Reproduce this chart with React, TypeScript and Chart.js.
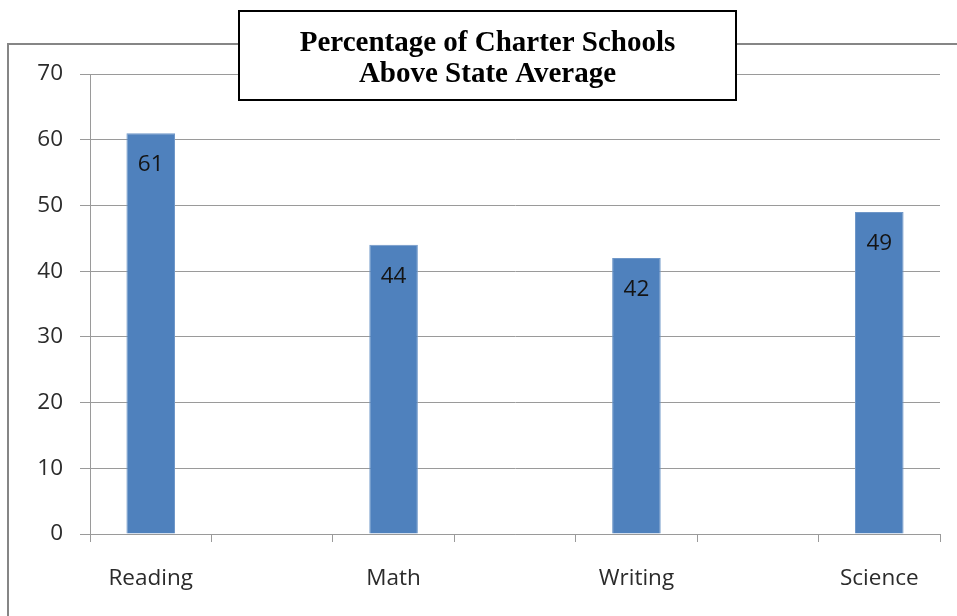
import React, { useEffect, useRef } from "react";
import { Chart, registerables } from "chart.js";

Chart.register(...registerables);

// Subjects and their values; blank slots keep the wide spacing between bars.
const subjects = ["Reading", "Math", "Writing", "Science"];
const percentAbove = [61, 44, 42, 49];
const yTicks = [0, 10, 20, 30, 40, 50, 60, 70];
const titleLines = ["Percentage of Charter Schools", "Above State Average"];

const slotLabels: string[] = [];
const slotValues: (number | null)[] = [];
subjects.forEach((s, i) => {
  if (i > 0) {
    slotLabels.push("");
    slotValues.push(null);
  }
  slotLabels.push(s);
  slotValues.push(percentAbove[i]);
});

const TICK_FONT = { family: "'Open Sans', Lato, sans-serif", size: 22.5 };
const GRID = "#9a9a9a";

const framePlugin = {
  id: "frame",
  beforeDraw(chart: any) {
    const ctx = chart.ctx;
    ctx.save();
    ctx.strokeStyle = "#868686";
    ctx.lineWidth = 2;
    ctx.beginPath();
    ctx.moveTo(8, chart.height);
    ctx.lineTo(8, 44);
    ctx.lineTo(chart.width, 44);
    ctx.stroke();
    ctx.restore();
  },
};

const valueLabelPlugin = {
  id: "valueLabels",
  afterDatasetsDraw(chart: any) {
    const ctx = chart.ctx;
    const meta = chart.getDatasetMeta(0);
    const data = chart.data.datasets[0].data;
    ctx.save();
    ctx.font = `${TICK_FONT.size}px ${TICK_FONT.family}`;
    ctx.fillStyle = "#141414";
    ctx.textAlign = "center";
    ctx.textBaseline = "middle";
    meta.data.forEach((bar: any, i: number) => {
      const v = data[i];
      if (v === null || v === undefined) return;
      ctx.fillText(String(v), bar.x, bar.y + 31.5);
    });
    ctx.restore();
  },
};

const titleBoxPlugin = {
  id: "titleBox",
  afterDraw(chart: any) {
    const ctx = chart.ctx;
    const x0 = 239, y0 = 11, x1 = 736, y1 = 100;
    ctx.save();
    ctx.fillStyle = "#ffffff";
    ctx.fillRect(x0, y0, x1 - x0, y1 - y0);
    ctx.strokeStyle = "#000000";
    ctx.lineWidth = 2;
    ctx.strokeRect(x0, y0, x1 - x0, y1 - y0);
    ctx.fillStyle = "#000000";
    ctx.font = "bold 29px 'Liberation Serif', 'Times New Roman', serif";
    ctx.textAlign = "center";
    ctx.textBaseline = "alphabetic";
    const cx = (x0 + x1) / 2;
    ctx.fillText(titleLines[0], cx, 51);
    ctx.fillText(titleLines[1], cx, 82);
    ctx.restore();
  },
};

export default function App() {
  const canvasRef = useRef<HTMLCanvasElement | null>(null);

  useEffect(() => {
    if (!canvasRef.current) return;
    const chart = new Chart(canvasRef.current, {
      type: "bar",
      data: {
        labels: slotLabels,
        datasets: [
          {
            data: slotValues,
            backgroundColor: "#4F81BD",
            borderColor: "#6f97c8",
            borderWidth: 1,
            barPercentage: 0.4,
            categoryPercentage: 1,
          },
        ],
      },
      options: {
        animation: false,
        responsive: false,
        maintainAspectRatio: false,
        layout: { padding: { left: 0, right: 17, top: 74, bottom: 0 } },
        plugins: {
          legend: { display: false },
          title: { display: false },
          tooltip: { enabled: false },
        },
        scales: {
          x: {
            offset: true,
            grid: {
              offset: true,
              drawOnChartArea: false,
              drawTicks: true,
              tickLength: 8,
              color: GRID,
            },
            border: { display: true, color: GRID },
            ticks: {
              font: TICK_FONT,
              color: "#2b2b2b",
              padding: 23,
              maxRotation: 0,
              autoSkip: false,
            },
            afterFit(scale: any) {
              scale.height = 82;
            },
          },
          y: {
            min: 0,
            max: 70,
            afterBuildTicks(scale: any) {
              scale.ticks = yTicks.map((v) => ({ value: v }));
            },
            grid: { color: GRID, tickLength: 10 },
            border: { display: true, color: GRID },
            ticks: {
              font: TICK_FONT,
              color: "#2b2b2b",
              padding: 17,
            },
            afterFit(scale: any) {
              scale.width = 90;
            },
          },
        },
      },
      plugins: [framePlugin, valueLabelPlugin, titleBoxPlugin],
    });
    return () => chart.destroy();
  }, []);

  return (
    <div style={{ position: "fixed", left: 0, top: 0, width: 957, height: 616, background: "#ffffff" }}>
      <canvas ref={canvasRef} width={957} height={616} style={{ display: "block" }} />
    </div>
  );
}
